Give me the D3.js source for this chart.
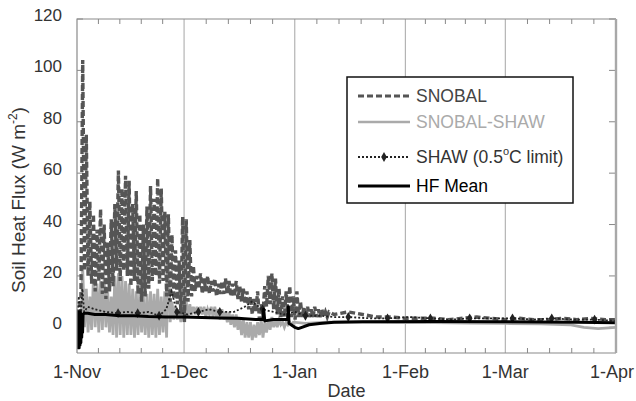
<!DOCTYPE html>
<html>
<head>
<meta charset="utf-8">
<script src="https://cdn.jsdelivr.net/npm/d3@7"></script>
<style>
  html, body { margin: 0; padding: 0; background: #fff; }
  svg { display: block; font-family: 'Liberation Sans', Arial, sans-serif; }
</style>
</head>
<body>
<div id="chart"></div>
<script>
// days counted from 1-Nov; daily highs / lows of the diurnal swing
var snobalHi = [8, 104, 75, 49, 44, 38, 46, 40, 33, 42,
  48, 61, 54, 59, 57, 48, 53, 44, 40, 47,
  55, 50, 58, 54, 45, 44, 36, 30, 26, 43,
  42, 34, 24, 20, 21, 19, 20, 18, 19, 17,
  18, 19, 18, 17, 18, 16, 15, 14, 12, 11,
  14, 9, 16, 20, 21, 19, 15, 12, 14, 16,
  12, 14, 10, 8, 8, 7, 8, 7, 7, 6, 6];
var snobalLo = [1, 10, 22, 20, 17, 14, 18, 13, 11, 14,
  16, 22, 18, 22, 20, 16, 18, 13, 10, 12,
  15, 18, 20, 17, 18, 12, 10, 11, 9, 5,
  2, 10, 12, 14, 15, 13, 14, 13, 14, 12,
  13, 13, 13, 12, 12, 11, 10, 9, 7, 5,
  6, 3, 5, 8, 9, 7, 5, 4, 4, 4,
  4, 3, 4, 4, 4, 4, 4, 4, 4, 4, 4];
var snobalTailDays = [72, 76, 80, 84, 88, 92, 96, 100, 104, 108, 112, 116, 120, 124, 128, 132, 136, 140, 144, 148, 151];
var snobalTailVals = [5, 6, 5, 4, 4, 3.5, 3.5, 3.5, 3, 3.5, 4, 3.5, 3, 3.5, 3, 3, 3.5, 3, 3.5, 3, 3];

var grayHi = [5, 23, 15, 12, 19, 17, 18, 19, 14, 12,
  20, 21, 20, 18, 17, 15, 14, 14, 12, 13,
  14, 13, 15, 12, 14, 33, 10, 8, 7, 9,
  10, 9, 8, 8, 8, 8, 7, 8, 8, 7,
  7, 6, 6, 5, 5, 4, 3, 2, 2, 1,
  2, 3, 2, 3, 4, 3, 3, 2, 2, 2, 2];
var grayLo = [-3, -2, 0, -2, -1, 0, -2, -1, 0, -2,
  -3, -4, -3, -4, -3, -3, -4, -3, -2, -3,
  -4, -3, -4, -3, -2, -4, 2, 3, 3, 2,
  2, 4, 5, 5, 5, 5, 4, 5, 4, 4,
  3, 3, 2, 1, 0, -1, -3, -4, -4, -5,
  -4, -3, -4, -2, -1, 0, 0, 1, 0, 1, 1];
var grayTailDays = [64, 70, 80, 90, 100, 110, 120, 130, 138, 142, 146, 151];
var grayTailVals = [1.5, 2, 2, 1.8, 1.8, 1.6, 1.5, 1.3, 1, 0, -0.5, 0];

var shawDays = [0, 0.5, 1, 1.5, 2, 3, 5, 8, 11.5, 14, 17, 20, 23, 25, 26.5, 28, 31, 34, 37, 40,
  44, 47, 49, 52, 55, 58, 61, 64, 68, 72, 76, 82, 87, 93, 99, 105, 110, 116, 122, 128, 133, 139, 145, 151];
var shawVals = [3, 12, 2, 15, 6, 8, 7, 6, 5.5, 6, 5.5, 6, 4.5, 7, 14, 6, 5, 6, 7, 6,
  6, 8, 10, 7, 6, 5, 6, 4.5, 4.5, 4, 4, 3.5, 3.5, 4, 3.5, 3, 3.5, 3.5, 3.5, 3, 3.5, 3, 3, 2.5];
var shawMarkDays = [11.5, 17, 23, 28, 34, 40, 52, 64, 76, 87, 99, 110, 122, 133, 145];

var hfDays = [0, 0.12, 0.24, 0.36, 0.48, 0.6, 0.72, 0.84, 0.96, 1.08, 1.2, 1.32, 1.44, 1.56, 1.7,
  2, 3, 5, 8, 12, 16, 20, 25, 30, 35, 40, 45, 50, 52, 52.3, 52.6, 55, 58, 59, 59.2, 59.4,
  60, 61, 62, 63, 65, 68, 72, 80, 100, 120, 140, 151];
var hfVals = [5, -6, 6, -8, 5, -8, 6, -7, 6, -6, 5, -4, 5, -2, 5,
  5.5, 5.5, 5, 5, 4.5, 4.5, 4.2, 4, 4, 3.8, 3.6, 3.5, 3, 3, 7, 2.5, 3, 3, 3, 8, 1.5,
  1, 0, -0.5, 0, 1, 1.5, 2, 2.2, 2.3, 2.2, 2, 1.8];

var yTicks = [0, 20, 40, 60, 80, 100, 120];
var legendNames = ['SNOBAL', 'SNOBAL-SHAW', 'SHAW (0.5', 'HF Mean'];

var W = 636, H = 401;
var L = 77, R = 616, T = 19, B = 353;
var start = new Date(Date.UTC(2006, 10, 1));
var end = new Date(Date.UTC(2007, 3, 1));
function dayDate(d) { return new Date(start.getTime() + d * 86400000); }

var x = d3.scaleUtc().domain([start, end]).range([L, R]);
var y = d3.scaleLinear().domain([-10, 120]).range([B, T]);

var svg = d3.select('#chart').append('svg').attr('width', W).attr('height', H);

// month grid lines
var months = d3.utcMonth.range(start, d3.utcMonth.offset(end, 1));
svg.append('g').selectAll('line').data(months.slice(1, -1)).enter().append('line')
  .attr('x1', function (d) { return x(d); }).attr('x2', function (d) { return x(d); })
  .attr('y1', T).attr('y2', B).attr('stroke', '#b4b4b4').attr('stroke-width', 1.2);

// minor ticks: each month split in five
var minor = [];
for (var i = 0; i < months.length - 1; i++) {
  var a = months[i].getTime(), b = months[i + 1].getTime();
  for (var k = 1; k < 5; k++) { minor.push(new Date(a + (b - a) * k / 5)); }
}
var tk = svg.append('g').attr('stroke', '#888').attr('stroke-width', 1);
minor.forEach(function (d) {
  tk.append('line').attr('x1', x(d)).attr('x2', x(d)).attr('y1', B).attr('y2', B - 5);
  tk.append('line').attr('x1', x(d)).attr('x2', x(d)).attr('y1', T).attr('y2', T + 5);
});
yTicks.forEach(function (v) {
  tk.append('line').attr('x1', L).attr('x2', L + 6).attr('y1', y(v)).attr('y2', y(v));
  tk.append('line').attr('x1', R).attr('x2', R - 7).attr('y1', y(v)).attr('y2', y(v));
});

function zig(hi, lo) {
  var pts = [];
  for (var i = 0; i < hi.length; i++) {
    pts.push([i + 0.1, lo[i]]);
    pts.push([i + 0.6, hi[i]]);
  }
  return pts;
}
function zipPts(days, vals) { return days.map(function (d, i) { return [d, vals[i]]; }); }

var line = d3.line()
  .x(function (p) { return x(dayDate(p[0])); })
  .y(function (p) { return y(p[1]); });

var clip = svg.append('clipPath').attr('id', 'clip').append('rect')
  .attr('x', L).attr('y', T).attr('width', R - L).attr('height', B - T);
var plot = svg.append('g').attr('clip-path', 'url(#clip)');

var grayPts = zig(grayHi, grayLo).concat(zipPts(grayTailDays, grayTailVals));
plot.append('path').attr('d', line(grayPts))
  .attr('fill', 'none').attr('stroke', '#aaaaaa').attr('stroke-width', 2.8);

var snobalPts = zig(snobalHi, snobalLo).concat(zipPts(snobalTailDays, snobalTailVals));
plot.append('path').attr('d', line(snobalPts))
  .attr('fill', 'none').attr('stroke', '#555').attr('stroke-width', 3.4)
  .attr('stroke-dasharray', '6,3');

var shawPts = zipPts(shawDays, shawVals);
plot.append('path').attr('d', line(shawPts))
  .attr('fill', 'none').attr('stroke', '#222').attr('stroke-width', 1.8)
  .attr('stroke-dasharray', '2,2');
var diamond = d3.symbol().type(d3.symbolDiamond).size(28);
plot.selectAll('.mk').data(shawPts.filter(function (p) { return shawMarkDays.indexOf(p[0]) >= 0; }))
  .enter().append('path').attr('class', 'mk')
  .attr('transform', function (p) { return 'translate(' + x(dayDate(p[0])) + ',' + y(p[1]) + ')'; })
  .attr('d', diamond).attr('fill', '#222');

var hfPts = zipPts(hfDays, hfVals);
plot.append('path').attr('d', line(hfPts))
  .attr('fill', 'none').attr('stroke', '#000').attr('stroke-width', 3).attr('stroke-linejoin', 'round');

// frame
svg.append('path').attr('d', 'M' + L + ',' + B + 'V' + T + 'H' + R)
  .attr('fill', 'none').attr('stroke', '#8a8a8a').attr('stroke-width', 1.2);
svg.append('line').attr('x1', L).attr('x2', R).attr('y1', B).attr('y2', B)
  .attr('stroke', '#8a8a8a').attr('stroke-width', 1.2);
svg.append('line').attr('x1', R).attr('x2', R).attr('y1', T).attr('y2', B)
  .attr('stroke', '#a8a8a8').attr('stroke-width', 2.4);

// tick labels (last one kept inside the page)
var fmt = d3.utcFormat('%-d-%b');
svg.append('g').selectAll('text').data(months).enter().append('text')
  .attr('x', function (d, i) { return i === months.length - 1 ? 634 : x(d); }).attr('y', 378)
  .attr('text-anchor', function (d, i) { return i === months.length - 1 ? 'end' : 'middle'; })
  .attr('font-size', 18).attr('fill', '#333')
  .text(function (d) { return fmt(d); });
svg.append('g').selectAll('text').data(yTicks).enter().append('text')
  .attr('x', 62).attr('y', function (v) { return y(v) + 2; })
  .attr('text-anchor', 'end').attr('font-size', 17).attr('fill', '#333')
  .text(function (v) { return v; });

svg.append('text').attr('x', (L + R) / 2).attr('y', 397)
  .attr('text-anchor', 'middle').attr('font-size', 18).attr('fill', '#333').text('Date');

var yl = svg.append('text').attr('transform', 'translate(25,200) rotate(-90)')
  .attr('text-anchor', 'middle').attr('font-size', 19).attr('fill', '#333');
yl.append('tspan').text('Soil Heat Flux (W m');
yl.append('tspan').attr('font-size', 12).attr('dy', -8).text('-2');
yl.append('tspan').attr('dy', 8).text(')');

// legend
var lg = svg.append('g');
lg.append('rect').attr('x', 347).attr('y', 77).attr('width', 226).attr('height', 126)
  .attr('fill', '#fff').attr('stroke', '#111').attr('stroke-width', 1.5);
var rows = [
  { y: 96, stroke: '#555', w: 3, dash: '6,3', color: '#444' },
  { y: 122, stroke: '#aaa', w: 2.6, dash: null, color: '#aaa' },
  { y: 157, stroke: '#222', w: 1.8, dash: '2,2', color: '#333', mark: true },
  { y: 186, stroke: '#000', w: 3, dash: null, color: '#000' }
];
rows.forEach(function (r, i) {
  lg.append('line').attr('x1', 358).attr('x2', 410).attr('y1', r.y).attr('y2', r.y)
    .attr('stroke', r.stroke).attr('stroke-width', r.w).attr('stroke-dasharray', r.dash);
  if (r.mark) {
    lg.append('path').attr('transform', 'translate(384,' + r.y + ')').attr('d', diamond).attr('fill', '#222');
  }
  var t = lg.append('text').attr('x', 416).attr('y', r.y + 6)
    .attr('font-size', 17.5).attr('fill', r.color).text(legendNames[i]);
  if (i === 2) {
    t.append('tspan').attr('font-size', 11).attr('dy', -8).text('o');
    t.append('tspan').attr('dy', 8).text('C limit)');
  }
});
</script>
</body>
</html>
